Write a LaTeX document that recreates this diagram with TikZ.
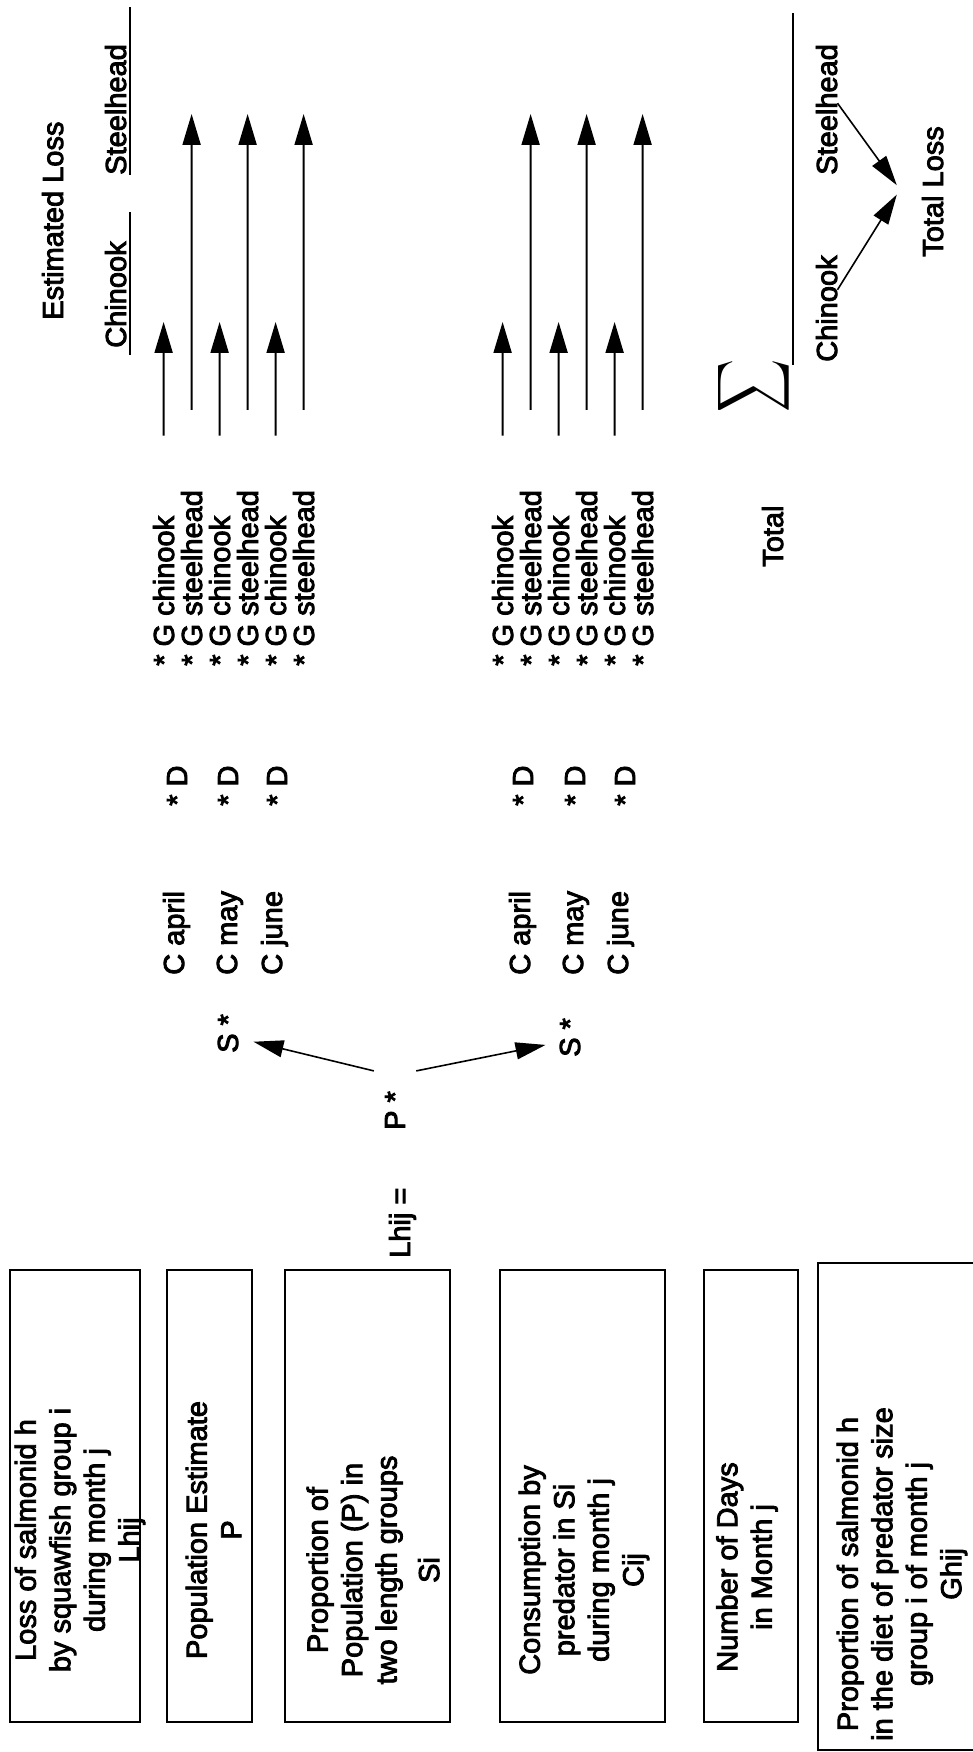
\documentclass[tikz,border=0pt]{standalone}
\usepackage{fontspec}
\setmainfont{Liberation Sans}[FakeBold=3]
\usepackage{graphicx}
\usetikzlibrary{arrows.meta}
\tikzset{
  lbl/.style={inner sep=0pt,anchor=base west,font=\fontsize{29}{34.5}\selectfont},
  defbox/.style={draw,line width=1.8pt,inner sep=0pt},
  deftxt/.style={inner sep=0pt,align=center,font=\fontsize{29}{34.5}\selectfont},
  ar/.style={-{Triangle[length=31pt,width=18pt]},line width=2pt},
  sar/.style={-{Triangle[length=30pt,width=17pt]},line width=1.6pt},
  rule/.style={line width=1.6pt},
}

\begin{document}
\begin{tikzpicture}[x=1pt,y=1pt,rotate=90,transform shape]
  \useasboundingbox (0,0) rectangle (1752,-973);
  \node[defbox,minimum width=452pt,minimum height=130pt] (bxloss) at (256,-75) {};
  \node[defbox,minimum width=452pt,minimum height=85pt] (bxpop) at (256,-209.5) {};
  \node[defbox,minimum width=452pt,minimum height=165pt] (bxprop) at (256,-367.5) {};
  \node[defbox,minimum width=452pt,minimum height=165pt] (bxcons) at (256,-582.5) {};
  \node[defbox,minimum width=452pt,minimum height=94pt] (bxdays) at (256,-751) {};
  \node[defbox,minimum width=487pt,minimum height=172pt] (bxdiet) at (245.5,-904) {};
  \node[deftxt] (txloss) at (212,-80) {Loss of salmonid h\\by squawfish group i\\during month j\\Lhij};
  \node[deftxt] (txpop) at (222,-213.5) {Population Estimate\\P};
  \node[deftxt] (txprop) at (182,-373) {Proportion of\\Population (P) in\\two length groups\\[8pt]Si};
  \node[deftxt] (txcons) at (182,-584) {Consumption by\\predator in Si\\during month j\\Cij};
  \node[deftxt] (txdays) at (185,-747) {Number of Days\\in Month j};
  \node[deftxt] (txdiet) at (178,-902) {Proportion of salmonid h\\in the diet of predator size\\group i of month j\\Ghij};

  \node[lbl] (lhs) at (494,-410) {Lhij =};
  \node[lbl,inner xsep=20pt,inner ysep=11pt] (pstar) at (602,-405) {P *};
  \node[lbl,inner ysep=15pt] (supper) at (699,-238) {S *};
  \node[lbl,inner ysep=14pt] (slower) at (695,-580) {S *};
  \draw[sar] (pstar.north east) -- (supper.-108);
  \draw[sar] (pstar.south east) -- (slower.107);

  \foreach \n/\m/\vc/\vd in {1/april/184/187,2/may/237/238,3/june/282/287} {
    \node[lbl] (ca\n) at (777,-\vc) {C \m};
    \node[lbl] (da\n) at (946,-\vd) {* D};
  }
  \foreach \n/\m/\vc/\vd in {1/april/530/533,2/may/583/585,3/june/628/635} {
    \node[lbl] (cb\n) at (777,-\vc) {C \m};
    \node[lbl] (db\n) at (946,-\vd) {* D};
  }

  \foreach \s/\tip [count=\k from 0] in {chinook/1430,steelhead/1638,chinook/1430,steelhead/1638,chinook/1430,steelhead/1638} {
    \pgfmathsetmacro\va{174+28*\k}
    \pgfmathsetmacro\vb{513+28*\k}
    \node[lbl] (ga\k) at (1086,-\va) {* G \s};
    \node[lbl] (gb\k) at (1086,-\vb) {* G \s};
    \coordinate (ea\k) at (\tip,-\va+10.4);
    \coordinate (eb\k) at (\tip,-\vb+10.4);
    \draw[ar,shorten <=80pt] (ga\k.east) -- (ea\k);
    \draw[ar,shorten <=80pt] (gb\k.east) -- (eb\k);
  }

  \node[lbl] (hest) at (1432,-63) {Estimated Loss};
  \node[lbl] (hchin) at (1404,-126) {Chinook};
  \node[lbl] (hsteel) at (1577,-126) {Steelhead};
  \draw[rule] (1397,-130) -- (1540,-130);
  \draw[rule] (1577,-130) -- (1745,-130);

  \node[inner sep=0pt] (sigma) at (1365.5,-753.5) {\resizebox{53pt}{53pt}{$\displaystyle\sum$}};
  \node[lbl] (ttotal) at (1185,-783) {Total};
  \draw[rule] (1387,-793) -- (1739,-793);
  \node[lbl] (tchin) at (1390,-837) {Chinook};
  \node[lbl] (tsteel) at (1577,-837) {Steelhead};
  \node[lbl,inner ysep=25pt] (tsum) at (1495,-943) {Total Loss};
  \draw[sar] (tchin.-30) -- (tsum.95);
  \draw[sar] (tsteel.-60) -- (tsum.80);
\end{tikzpicture}
\end{document}
